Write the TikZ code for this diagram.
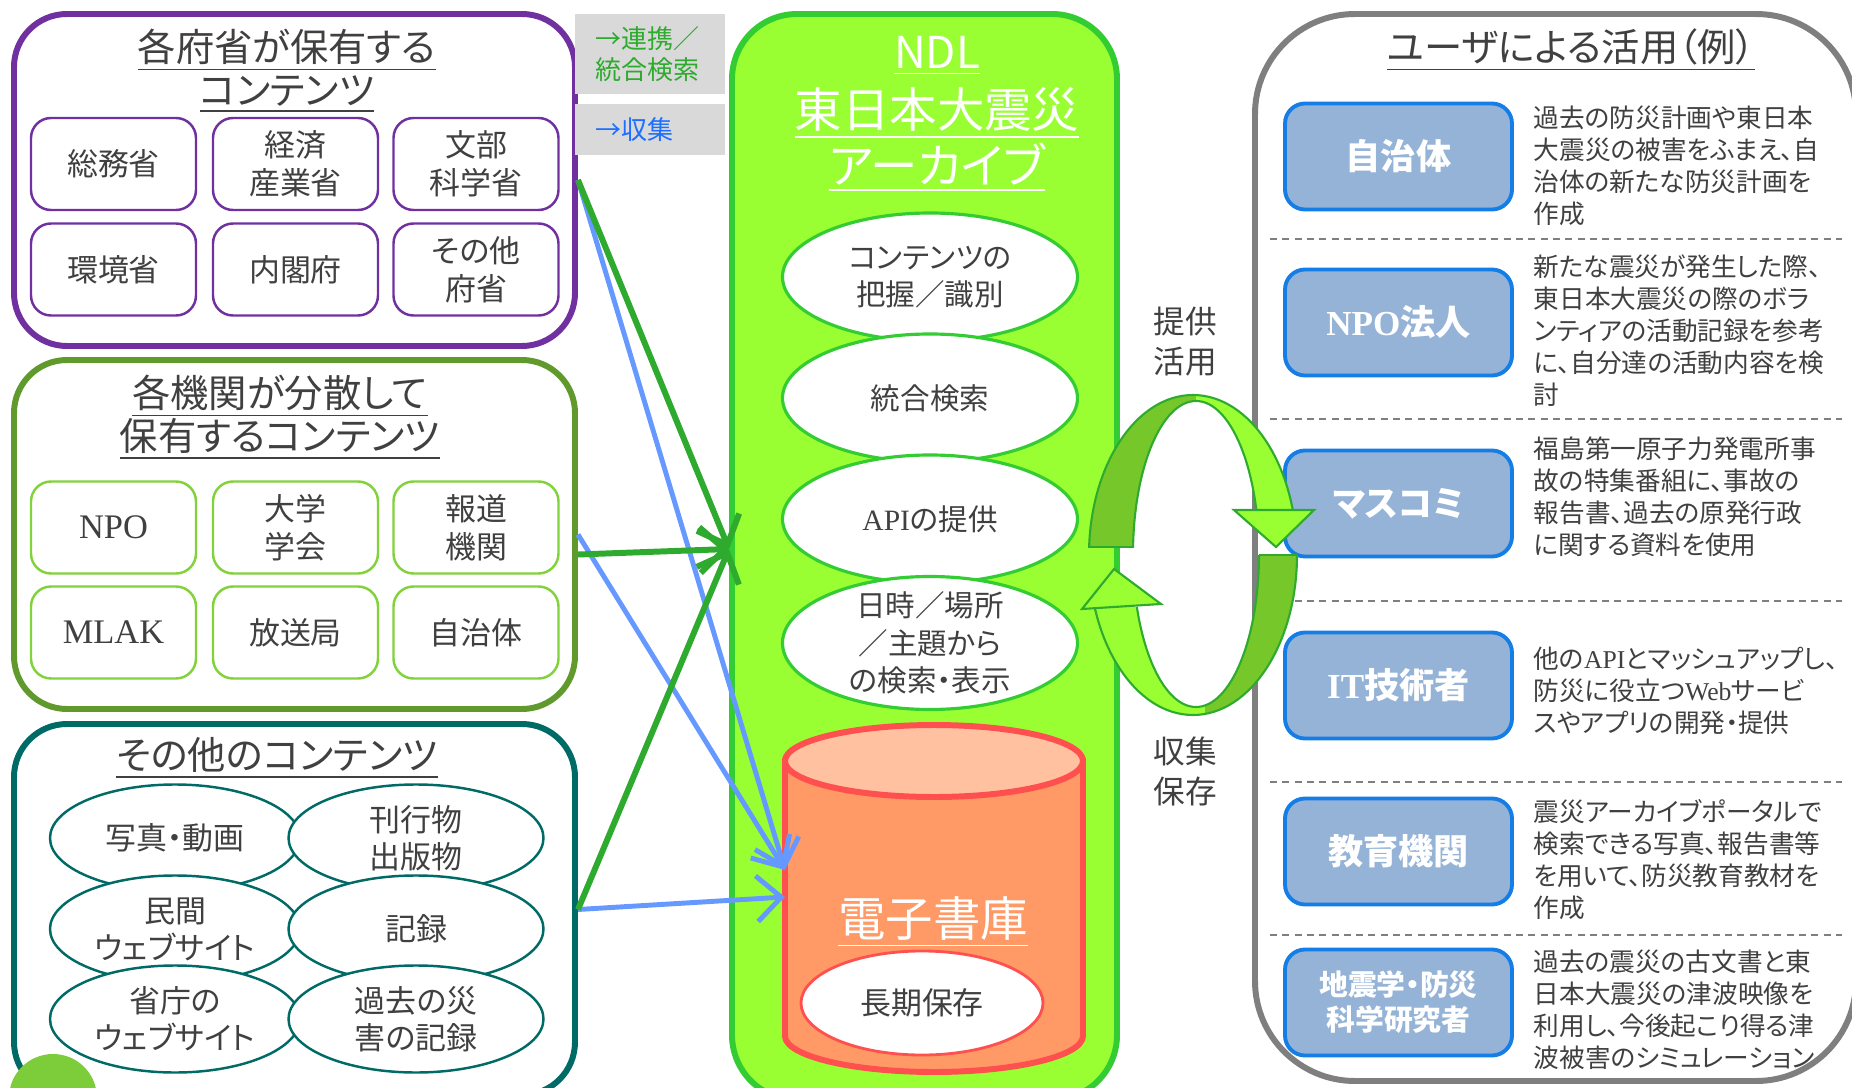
\documentclass[tikz,border=0pt]{standalone}
\usepackage{fontspec}
\setmainfont{Noto Sans CJK JP}[RawFeature=+palt]
\newfontfamily\latin{Liberation Serif}
\usetikzlibrary{arrows.meta, shapes.geometric}

\definecolor{txt}{RGB}{64,64,64}
\definecolor{govc}{RGB}{112,48,160}
\definecolor{orgc}{RGB}{96,154,44}
\definecolor{orgin}{RGB}{130,210,60}
\definecolor{othc}{RGB}{0,107,102}
\definecolor{ndlfill}{RGB}{153,255,51}
\definecolor{ndlline}{RGB}{51,204,51}
\definecolor{link}{RGB}{46,170,46}
\definecolor{collect}{RGB}{102,153,255}
\definecolor{collecttxt}{RGB}{30,110,255}
\definecolor{libline}{RGB}{255,80,80}
\definecolor{libbody}{RGB}{255,153,102}
\definecolor{libtop}{RGB}{255,193,160}
\definecolor{userfill}{RGB}{149,179,215}
\definecolor{userline}{RGB}{20,125,230}
\definecolor{usergray}{RGB}{127,127,127}
\definecolor{cycdark}{RGB}{118,200,42}
\definecolor{legendgray}{RGB}{217,217,217}
\definecolor{dotgreen}{RGB}{125,205,59}

\tikzset{
  outerbox/.style={draw=#1, line width=1.7pt, rounded corners=0.53cm, fill=white, minimum width=5.61cm},
  boxtitle/.style={align=center, text=txt, inner sep=0pt, font=\fontsize{10.9pt}{12.2pt}\selectfont},
  innerbox/.style={draw=#1, line width=0.7pt, rounded corners=0.2cm, fill=white, minimum width=1.65cm,
    minimum height=0.92cm, align=center, text=txt, inner sep=0pt, font=\fontsize{8.8pt}{10.8pt}\selectfont},
  otherell/.style={ellipse, draw=othc, line width=0.7pt, fill=white, minimum width=2.5cm, minimum height=1.07cm,
    inner sep=-0.4cm, align=center, text=txt, font=\fontsize{8.8pt}{10.5pt}\selectfont},
  ndlell/.style={ellipse, draw=ndlline, line width=0.9pt, fill=white, minimum width=2.95cm, minimum height=1.28cm,
    inner sep=-0.4cm, align=center, text=txt, font=\fontsize{8.4pt}{10.7pt}\selectfont},
  legendbox/.style={fill=legendgray, minimum width=1.5cm, text width=1.1cm, align=left, inner sep=0pt,
    font=\fontsize{7.4pt}{9pt}\selectfont},
  userbox/.style={draw=userline, line width=1.1pt, fill=userfill, rounded corners=0.2cm, minimum width=2.27cm,
    minimum height=1.06cm, align=center, text=white, font=\bfseries\fontsize{10pt}{12pt}\selectfont},
  desc/.style={anchor=west, align=left, text=txt, inner sep=0pt, font=\fontsize{7.3pt}{9.1pt}\selectfont},
  cyclabel/.style={align=center, text=txt, font=\fontsize{9pt}{11.4pt}\selectfont},
  linkarrow/.style={draw=link, line width=1.7pt, -{Straight Barb[length=7pt,width=13pt]}},
  collectarrow/.style={draw=collect, line width=1.4pt, -{Straight Barb[length=7pt,width=13pt]}},
  sepline/.style={draw=usergray, line width=0.6pt, dash pattern=on 2pt off 1.5pt},
  ribbon/.style={draw=link, line width=0.6pt, even odd rule},
}

\begin{document}
\begin{tikzpicture}
\useasboundingbox (0,0) rectangle (18.52,10.87);

% contents held by the ministries
\node[outerbox=govc, minimum height=3.32cm] (gov) at (2.945,9.07) {};
\node[boxtitle] (govtitle) at (2.87,10.16) {\underline{各府省が保有する}\\\underline{コンテンツ}};
\node[innerbox=govc] (g1) at (1.135,9.23) {総務省};
\node[innerbox=govc] (g2) at (2.955,9.23) {経済\\産業省};
\node[innerbox=govc] (g3) at (4.76,9.23) {文部\\科学省};
\node[innerbox=govc] (g4) at (1.135,8.175) {環境省};
\node[innerbox=govc] (g5) at (2.955,8.175) {内閣府};
\node[innerbox=govc] (g6) at (4.76,8.175) {その他\\府省};

% contents spread over the institutions
\node[outerbox=orgc, minimum height=3.49cm] (org) at (2.945,5.525) {};
\node[boxtitle] (orgtitle) at (2.80,6.695) {\underline{各機関が分散して}\\\underline{保有するコンテンツ}};
\node[innerbox=orgin] (k1) at (1.135,5.595) {\latin\fontsize{9.8pt}{12pt}\selectfont NPO};
\node[innerbox=orgin] (k2) at (2.955,5.595) {大学\\学会};
\node[innerbox=orgin] (k3) at (4.76,5.595) {報道\\機関};
\node[innerbox=orgin] (k4) at (1.135,4.545) {\latin\fontsize{9.8pt}{12pt}\selectfont MLAK};
\node[innerbox=orgin] (k5) at (2.955,4.545) {放送局};
\node[innerbox=orgin] (k6) at (4.76,4.545) {自治体};

% other contents
\node[outerbox=othc, minimum height=3.71cm] (oth) at (2.945,1.775) {};
\node[boxtitle] (othtitle) at (2.77,3.29) {\underline{その他のコンテンツ}};
\node[otherell] (o1) at (1.75,2.49) {写真・動画};
\node[otherell, minimum width=2.55cm] (o2) at (4.16,2.49) {刊行物\\出版物};
\node[otherell] (o3) at (1.75,1.58) {民間\\ウェブサイト};
\node[otherell, minimum width=2.55cm] (o4) at (4.16,1.58) {記録};
\node[otherell] (o5) at (1.75,0.68) {省庁の\\ウェブサイト};
\node[otherell, minimum width=2.55cm] (o6) at (4.16,0.68) {過去の災\\害の記録};
\fill[dotgreen] (0.53,-0.11) circle (0.44);

% legend
\node[legendbox, minimum height=0.80cm, text=link] (leglink) at (6.50,10.33) {→連携／\\統合検索};
\node[legendbox, minimum height=0.51cm, text=collecttxt] (legcollect) at (6.50,9.575) {→収集};

% NDL archive
\node[draw=ndlline, fill=ndlfill, line width=1.7pt, rounded corners=0.65cm, minimum width=3.85cm,
  minimum height=10.86cm] (ndl) at (9.245,5.30) {};
\node[text=white, font=\fontsize{12.5pt}{14pt}\selectfont] (ndlname) at (9.37,10.31) {\underline{NDL}};
\node[text=white, align=center, font=\fontsize{13.5pt}{14.2pt}\selectfont] (ndltitle) at (9.37,9.47)
  {\underline{東日本大震災}\\\underline{アーカイブ}};
\node[ndlell] (n1) at (9.30,8.10) {コンテンツの\\把握／識別};
\node[ndlell] (n2) at (9.30,6.89) {統合検索};
\node[ndlell] (n3) at (9.30,5.68) {{\latin API}の提供};
\node[ndlell, minimum height=1.33cm] (n4) at (9.30,4.44) {日時／場所\\／主題から\\の検索・表示};

% digital library
\filldraw[draw=libline, fill=libbody, line width=1.7pt] (7.85,3.26) -- (7.85,0.51)
  arc[start angle=180, end angle=360, x radius=1.49, y radius=0.36] -- (10.83,3.26) -- cycle;
\filldraw[draw=libline, fill=libtop, line width=1.7pt] (9.34,3.26) ellipse [x radius=1.49, y radius=0.36];
\node[text=white, font=\fontsize{13.5pt}{15pt}\selectfont] (libname) at (9.33,1.65) {\underline{電子書庫}};
\node[ellipse, draw=libline, line width=0.8pt, fill=white, minimum width=2.42cm, minimum height=1.04cm,
  inner sep=-0.4cm, text=txt, font=\fontsize{8.8pt}{10.5pt}\selectfont] (store) at (9.22,0.84) {長期保存};
\coordinate (libin) at (7.85,2.17);
\coordinate (libside) at (7.85,1.90);

% connectors
\draw[collectarrow] (gov.east) -- (libin);
\draw[collectarrow] (org.east) -- (libin);
\draw[collectarrow] (oth.east) -- (libside);
\draw[linkarrow] (gov.east) -- ([yshift=0.08cm]ndl.west);
\draw[linkarrow] ([yshift=-0.2cm]org.east) -- ([yshift=0.08cm]ndl.west);
\draw[linkarrow] (oth.east) -- ([yshift=0.08cm]ndl.west);

% uses by the users
\node[draw=usergray, line width=1.7pt, rounded corners=1cm, fill=white, minimum width=6.01cm,
  minimum height=10.67cm] (users) at (15.555,5.395) {};
\node[boxtitle] (usertitle) at (15.71,10.37) {\underline{ユーザによる活用（例）}};

\node[userbox] (u1) at (13.985,9.305) {自治体};
\node[userbox] (u2) at (13.985,7.645) {{\latin NPO}法人};
\node[userbox] (u3) at (13.985,5.835) {マスコミ};
\node[userbox] (u4) at (13.985,4.015) {{\latin IT}技術者};
\node[userbox] (u5) at (13.985,2.355) {教育機関};
\node[userbox, font=\bfseries\fontsize{8.2pt}{10pt}\selectfont] (u6) at (13.985,0.845) {地震学・防災\\科学研究者};

\node[desc] (d1) at (15.33,9.215) {過去の防災計画や東日本\\大震災の被害をふまえ、自\\治体の新たな防災計画を\\作成};
\node[desc] (d2) at (15.33,7.565) {新たな震災が発生した際、\\東日本大震災の際のボラ\\ンティアの活動記録を参考\\に、自分達の活動内容を検\\討};
\node[desc] (d3) at (15.33,5.905) {福島第一原子力発電所事\\故の特集番組に、事故の\\報告書、過去の原発行政\\に関する資料を使用};
\node[desc] (d4) at (15.33,3.965) {他の{\latin API}とマッシュアップし、\\防災に役立つ{\latin Web}サービ\\スやアプリの開発・提供};
\node[desc] (d5) at (15.33,2.27) {震災アーカイブポータルで\\検索できる写真、報告書等\\を用いて、防災教育教材を\\作成};
\node[desc] (d6) at (15.33,0.77) {過去の震災の古文書と東\\日本大震災の津波映像を\\利用し、今後起こり得る津\\波被害のシミュレーション};

\draw[sepline] (12.70,8.48) -- (18.42,8.48);
\draw[sepline] (12.70,6.68) -- (18.42,6.68);
\draw[sepline] (12.70,4.86) -- (18.42,4.86);
\draw[sepline] (12.70,3.05) -- (18.42,3.05);
\draw[sepline] (12.70,1.52) -- (18.42,1.52);

% cycle between archive and users
\node[cyclabel] (lbluse) at (11.85,7.45) {提供\\活用};
\node[cyclabel] (lblcollect) at (11.85,3.155) {収集\\保存};

\begin{scope}
\clip (10.70,5.40) rectangle (11.96,7.10);
\filldraw[ribbon, fill=cycdark] (11.93,5.32) ellipse [x radius=1.04, y radius=1.60]
  (11.96,5.33) ellipse [x radius=0.63, y radius=1.53];
\end{scope}
\begin{scope}
\clip (11.96,5.77) rectangle (13.20,7.10);
\filldraw[ribbon, fill=ndlfill] (11.93,5.32) ellipse [x radius=1.04, y radius=1.60]
  (11.96,5.33) ellipse [x radius=0.63, y radius=1.53];
\end{scope}
\begin{scope}
\clip (10.70,3.55) rectangle (12.05,4.80);
\filldraw[ribbon, fill=ndlfill] (11.93,5.32) ellipse [x radius=1.04, y radius=1.60]
  (11.96,5.33) ellipse [x radius=0.63, y radius=1.53];
\end{scope}
\begin{scope}
\clip (12.05,3.55) rectangle (13.20,5.32);
\filldraw[ribbon, fill=cycdark] (11.93,5.32) ellipse [x radius=1.04, y radius=1.60]
  (11.96,5.33) ellipse [x radius=0.63, y radius=1.53];
\end{scope}
\draw[link, line width=0.6pt] (10.89,5.40) -- (11.33,5.40);
\draw[link, line width=0.6pt] (12.59,5.32) -- (12.97,5.32);
\filldraw[fill=ndlfill, draw=link, line width=0.6pt] (12.34,5.77) -- (13.14,5.77) -- (12.76,5.40) -- cycle;
\filldraw[fill=ndlfill, draw=link, line width=0.6pt] (10.82,4.78) -- (11.61,4.83) -- (11.14,5.18) -- cycle;

\end{tikzpicture}
\end{document}
